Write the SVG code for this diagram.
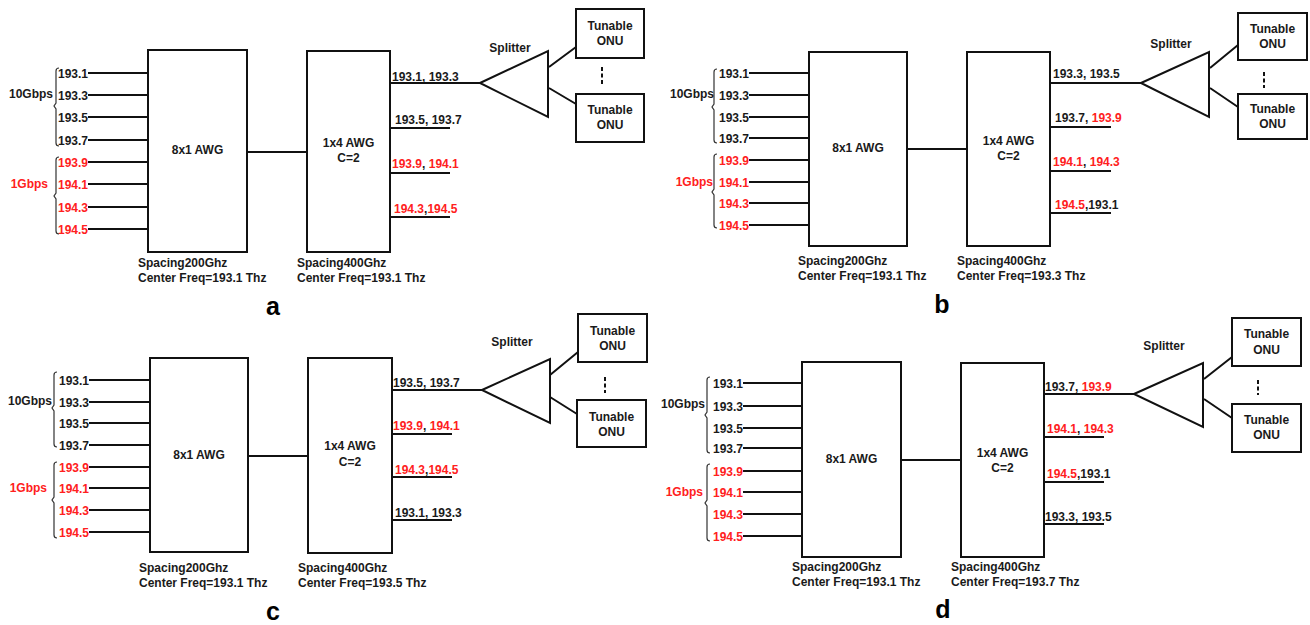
<svg xmlns="http://www.w3.org/2000/svg" width="1310" height="625" viewBox="0 0 1310 625">
<style>
text{font-family:"Liberation Sans",Arial,sans-serif;font-weight:bold;font-size:12px;fill:#1a1a1a}
.r{fill:#ff2020}
.e{text-anchor:end}
.m{text-anchor:middle}
.big{font-size:25px;fill:#000}
.ln{stroke:#111;stroke-width:2;fill:none}
.bx{fill:#fff;stroke:#111;stroke-width:2}
.br{stroke:#333;stroke-width:1.2;fill:none}
.ds{stroke:#111;stroke-width:2;stroke-dasharray:4 2.5;fill:none}
</style>
<rect width="1310" height="625" fill="#fff"/>

<!-- ================= PANEL A ================= -->
<g id="panel-a">
  <g id="a-connectors">
    <path class="ln" d="M88,73H148M88,95H148M88,117H148M88,140H148M88,162H148M88,184H148M88,207H148M88,229H148"/>
    <path class="ln" d="M247,152H307"/>
    <path class="ln" d="M390,83H480M390,128H450M390,173H450M390,217H450"/>
    <path class="ln" d="M549,67L576,47M549,88L576,104"/>
    <path class="ds" d="M602,67V85"/>
  </g>
  <g id="a-inputs">
    <text class="e" x="88" y="77.5">193.1</text>
    <text class="e" x="88" y="99.5">193.3</text>
    <text class="e" x="88" y="121.5">193.5</text>
    <text class="e" x="88" y="144.5">193.7</text>
    <text class="e r" x="88" y="166.5">193.9</text>
    <text class="e r" x="88" y="188.5">194.1</text>
    <text class="e r" x="88" y="211.5">194.3</text>
    <text class="e r" x="88" y="233.5">194.5</text>
    <path class="br" d="M59,68Q56,68 56,71V103L54,106L56,109V143Q56,146 59,146"/>
    <path class="br" d="M59,157Q56,157 56,160V193L54,196L56,199V231Q56,234 59,234"/>
    <text class="e" x="53" y="98">10Gbps</text>
    <text class="e r" x="48" y="188">1Gbps</text>
  </g>
  <g id="a-awg8x1">
    <rect class="bx" x="148" y="50" width="99" height="202"/>
    <text class="m" x="197.5" y="154">8x1 AWG</text>
    <text x="138" y="267">Spacing200Ghz</text>
    <text x="138" y="282">Center Freq=193.1 Thz</text>
  </g>
  <g id="a-awg1x4">
    <rect class="bx" x="307" y="51" width="83" height="201"/>
    <text class="m" x="348.5" y="147">1x4 AWG</text>
    <text class="m" x="348.5" y="162">C=2</text>
    <text x="297" y="267">Spacing400Ghz</text>
    <text x="297" y="282">Center Freq=193.1 Thz</text>
  </g>
  <g id="a-outputs">
    <text x="392" y="81">193.1, 193.3</text>
    <text x="395" y="124">193.5, 193.7</text>
    <text x="392" y="168"><tspan class="r">193.9</tspan>, <tspan class="r">194.1</tspan></text>
    <text x="394" y="213"><tspan class="r">194.3</tspan>,<tspan class="r">194.5</tspan></text>
  </g>
  <g id="a-splitter">
    <polygon class="bx" points="480,83 548,51 548,117"/>
    <text class="m" x="510" y="52">Splitter</text>
  </g>
  <g id="a-onu1">
    <rect class="bx" x="576" y="9" width="68" height="49"/>
    <text class="m" x="610" y="30">Tunable</text>
    <text class="m" x="610" y="45">ONU</text>
  </g>
  <g id="a-onu2">
    <rect class="bx" x="576" y="94" width="68" height="48"/>
    <text class="m" x="610" y="114">Tunable</text>
    <text class="m" x="610" y="129">ONU</text>
  </g>
  <text class="big m" x="273" y="315">a</text>
</g>

<!-- ================= PANEL B ================= -->
<g id="panel-b">
  <g id="b-connectors">
    <path class="ln" d="M749,73H809M749,95H809M749,117H809M749,138H809M749,160H809M749,182H809M749,203H809M749,225H809"/>
    <path class="ln" d="M907,149H967"/>
    <path class="ln" d="M1050,83H1141M1050,127H1111M1050,171H1111M1050,213H1111"/>
    <path class="ln" d="M1210,68L1238,45M1210,88L1238,107"/>
    <path class="ds" d="M1264,72V88"/>
  </g>
  <g id="b-inputs">
    <text class="e" x="749" y="77.5">193.1</text>
    <text class="e" x="749" y="99.5">193.3</text>
    <text class="e" x="749" y="121.5">193.5</text>
    <text class="e" x="749" y="142.5">193.7</text>
    <text class="e r" x="749" y="164.5">193.9</text>
    <text class="e r" x="749" y="186.5">194.1</text>
    <text class="e r" x="749" y="207.5">194.3</text>
    <text class="e r" x="749" y="229.5">194.5</text>
    <path class="br" d="M717,69Q714,69 714,72V104L712,107L714,110V140Q714,143 717,143"/>
    <path class="br" d="M717,154Q714,154 714,157V189L712,192L714,195V225Q714,228 717,228"/>
    <text class="e" x="714" y="98">10Gbps</text>
    <text class="e r" x="713" y="186">1Gbps</text>
  </g>
  <g id="b-awg8x1">
    <rect class="bx" x="809" y="52" width="98" height="194"/>
    <text class="m" x="858" y="152">8x1 AWG</text>
    <text x="798" y="265">Spacing200Ghz</text>
    <text x="798" y="280">Center Freq=193.1 Thz</text>
  </g>
  <g id="b-awg1x4">
    <rect class="bx" x="967" y="52" width="83" height="194"/>
    <text class="m" x="1008.5" y="145">1x4 AWG</text>
    <text class="m" x="1008.5" y="160">C=2</text>
    <text x="957" y="265">Spacing400Ghz</text>
    <text x="957" y="280">Center Freq=193.3 Thz</text>
  </g>
  <g id="b-outputs">
    <text x="1053" y="78">193.3, 193.5</text>
    <text x="1055" y="122">193.7, <tspan class="r">193.9</tspan></text>
    <text x="1053" y="166"><tspan class="r">194.1</tspan>, <tspan class="r">194.3</tspan></text>
    <text x="1055" y="209"><tspan class="r">194.5</tspan>,193.1</text>
  </g>
  <g id="b-splitter">
    <polygon class="bx" points="1141,83 1209,52 1209,117"/>
    <text class="m" x="1171" y="48">Splitter</text>
  </g>
  <g id="b-onu1">
    <rect class="bx" x="1238" y="13" width="69" height="47"/>
    <text class="m" x="1272.5" y="33">Tunable</text>
    <text class="m" x="1272.5" y="48">ONU</text>
  </g>
  <g id="b-onu2">
    <rect class="bx" x="1238" y="94" width="69" height="45"/>
    <text class="m" x="1272.5" y="113">Tunable</text>
    <text class="m" x="1272.5" y="128">ONU</text>
  </g>
  <text class="big m" x="942" y="313">b</text>
</g>

<!-- ================= PANEL C ================= -->
<g id="panel-c">
  <g id="c-connectors">
    <path class="ln" d="M89,380H150M89,402H150M89,423H150M89,445H150M89,467H150M89,488H150M89,510H150M89,532H150"/>
    <path class="ln" d="M248,456H308"/>
    <path class="ln" d="M392,390H482M392,434H452M392,477H452M392,520H452"/>
    <path class="ln" d="M550,375L578,352M550,397L577,414"/>
    <path class="ds" d="M605,377V393"/>
  </g>
  <g id="c-inputs">
    <text class="e" x="89" y="384.5">193.1</text>
    <text class="e" x="89" y="406.5">193.3</text>
    <text class="e" x="89" y="427.5">193.5</text>
    <text class="e" x="89" y="449.5">193.7</text>
    <text class="e r" x="89" y="471.5">193.9</text>
    <text class="e r" x="89" y="492.5">194.1</text>
    <text class="e r" x="89" y="514.5">194.3</text>
    <text class="e r" x="89" y="536.5">194.5</text>
    <path class="br" d="M57,372Q54,372 54,375V405L52,408L54,411V444Q54,447 57,447"/>
    <path class="br" d="M57,462Q54,462 54,465V497L52,500L54,503V535Q54,538 57,538"/>
    <text class="e" x="52" y="405">10Gbps</text>
    <text class="e r" x="47" y="492">1Gbps</text>
  </g>
  <g id="c-awg8x1">
    <rect class="bx" x="150" y="358" width="98" height="194"/>
    <text class="m" x="199" y="459">8x1 AWG</text>
    <text x="139" y="572">Spacing200Ghz</text>
    <text x="139" y="587">Center Freq=193.1 Thz</text>
  </g>
  <g id="c-awg1x4">
    <rect class="bx" x="308" y="358" width="84" height="195"/>
    <text class="m" x="350" y="450">1x4 AWG</text>
    <text class="m" x="350" y="466">C=2</text>
    <text x="298" y="572">Spacing400Ghz</text>
    <text x="298" y="587">Center Freq=193.5 Thz</text>
  </g>
  <g id="c-outputs">
    <text x="393" y="387">193.5, 193.7</text>
    <text x="393" y="430"><tspan class="r">193.9</tspan>, <tspan class="r">194.1</tspan></text>
    <text x="395" y="474"><tspan class="r">194.3</tspan>,<tspan class="r">194.5</tspan></text>
    <text x="395" y="517">193.1, 193.3</text>
  </g>
  <g id="c-splitter">
    <polygon class="bx" points="482,390 550,359 550,423"/>
    <text class="m" x="512" y="346">Splitter</text>
  </g>
  <g id="c-onu1">
    <rect class="bx" x="578" y="314" width="69" height="48"/>
    <text class="m" x="612.5" y="335">Tunable</text>
    <text class="m" x="612.5" y="350">ONU</text>
  </g>
  <g id="c-onu2">
    <rect class="bx" x="577" y="400" width="69" height="47"/>
    <text class="m" x="611.5" y="421">Tunable</text>
    <text class="m" x="611.5" y="436">ONU</text>
  </g>
  <text class="big m" x="273" y="620">c</text>
</g>

<!-- ================= PANEL D ================= -->
<g id="panel-d">
  <g id="d-connectors">
    <path class="ln" d="M743,383H802M743,406H802M743,428H802M743,448H802M743,471H802M743,492H802M743,514H802M743,536H802"/>
    <path class="ln" d="M901,460H961"/>
    <path class="ln" d="M1044,394H1134M1044,437H1104M1044,482H1104M1044,524H1104"/>
    <path class="ln" d="M1204,379L1232,357M1204,399L1232,418"/>
    <path class="ds" d="M1258,380V395"/>
  </g>
  <g id="d-inputs">
    <text class="e" x="743" y="387.5">193.1</text>
    <text class="e" x="743" y="410.5">193.3</text>
    <text class="e" x="743" y="432.5">193.5</text>
    <text class="e" x="743" y="452.5">193.7</text>
    <text class="e r" x="743" y="475.5">193.9</text>
    <text class="e r" x="743" y="496.5">194.1</text>
    <text class="e r" x="743" y="518.5">194.3</text>
    <text class="e r" x="743" y="540.5">194.5</text>
    <path class="br" d="M710,377Q707,377 707,380V412L705,415L707,418V450Q707,453 710,453"/>
    <path class="br" d="M710,464Q707,464 707,467V500L705,503L707,506V538Q707,541 710,541"/>
    <text class="e" x="705" y="408">10Gbps</text>
    <text class="e r" x="703" y="496">1Gbps</text>
  </g>
  <g id="d-awg8x1">
    <rect class="bx" x="802" y="362" width="99" height="195"/>
    <text class="m" x="851.5" y="463">8x1 AWG</text>
    <text x="792" y="571">Spacing200Ghz</text>
    <text x="792" y="586">Center Freq=193.1 Thz</text>
  </g>
  <g id="d-awg1x4">
    <rect class="bx" x="961" y="363" width="83" height="194"/>
    <text class="m" x="1002.5" y="457">1x4 AWG</text>
    <text class="m" x="1002.5" y="472">C=2</text>
    <text x="951" y="571">Spacing400Ghz</text>
    <text x="951" y="586">Center Freq=193.7 Thz</text>
  </g>
  <g id="d-outputs">
    <text x="1045" y="391">193.7, <tspan class="r">193.9</tspan></text>
    <text x="1047" y="433"><tspan class="r">194.1</tspan>, <tspan class="r">194.3</tspan></text>
    <text x="1047" y="478"><tspan class="r">194.5</tspan>,193.1</text>
    <text x="1045" y="521">193.3, 193.5</text>
  </g>
  <g id="d-splitter">
    <polygon class="bx" points="1134,394 1203,363 1203,427"/>
    <text class="m" x="1164" y="350">Splitter</text>
  </g>
  <g id="d-onu1">
    <rect class="bx" x="1232" y="318" width="69" height="48"/>
    <text class="m" x="1266.5" y="338">Tunable</text>
    <text class="m" x="1266.5" y="354">ONU</text>
  </g>
  <g id="d-onu2">
    <rect class="bx" x="1232" y="404" width="69" height="48"/>
    <text class="m" x="1266.5" y="424">Tunable</text>
    <text class="m" x="1266.5" y="439">ONU</text>
  </g>
  <text class="big m" x="943" y="618">d</text>
</g>
</svg>
